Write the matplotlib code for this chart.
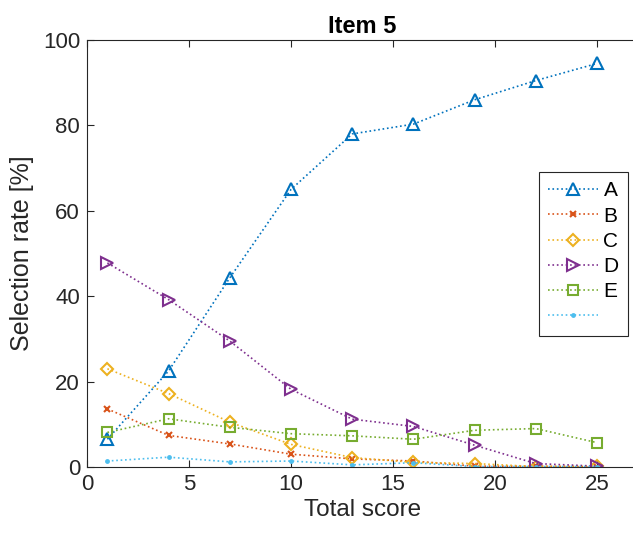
import matplotlib
matplotlib.use("Agg")
import matplotlib.pyplot as plt

plt.rcParams["font.family"] = ["Liberation Sans", "DejaVu Sans"]

# Total score bins
score = [1, 4, 7, 10, 13, 16, 19, 22, 25]

# Selection rate [%] per option
opt_a = [6.5, 22.5, 44.3, 65.0, 78.0, 80.3, 86.0, 90.5, 94.5]
opt_b = [13.6, 7.4, 5.4, 3.0, 1.9, 1.4, 0.2, 0.2, 0.0]
opt_c = [23.0, 17.2, 10.5, 5.3, 2.2, 1.1, 0.8, 0.1, 0.2]
opt_d = [47.8, 39.2, 29.5, 18.2, 11.2, 9.5, 5.1, 0.8, 0.2]
opt_e = [8.1, 11.3, 9.3, 7.8, 7.3, 6.5, 8.6, 9.0, 5.7]
opt_none = [1.4, 2.3, 1.2, 1.4, 0.5, 1.0, 0.1, 0.1, 0.1]

labels = ["A", "B", "C", "D", "E", " "]
series = [opt_a, opt_b, opt_c, opt_d, opt_e, opt_none]
colors = ["#0072BD", "#D95319", "#EDB120", "#7E2F8E", "#77AC30", "#4DBEEE"]
markers = ["^", "x", "D", ">", "s", "."]
sizes = [8, 5, 6, 8, 7, 4]

fig = plt.figure(figsize=(6.33, 5.33), dpi=100)
# axes runs just off the right side of the canvas, like the original
ax_w = 551
ax = fig.add_axes([87 / 633, 66 / 533, ax_w / 633, 427 / 533])

for y, lab, c, m, s in zip(series, labels, colors, markers, sizes):
    mfc = c if m == "." else "none"
    ax.plot(score, y, linestyle=":", color=c, marker=m, markersize=s,
            markerfacecolor=mfc, markeredgewidth=1.5, linewidth=1.2, label=lab)

ax.set_xlim(0, ax_w / 20.4)
ax.set_ylim(0, 100)
ax.set_xticks([0, 5, 10, 15, 20, 25])
ax.set_yticks([0, 20, 40, 60, 80, 100])
ax.tick_params(direction="in", labelsize=16, length=5, top=True, right=False,
               width=0.8, colors="#262626", pad=5)
for sp in ax.spines.values():
    sp.set_color("#262626")
    sp.set_linewidth(0.8)

ax.set_xlabel("Total score", fontsize=17.5, color="#262626", labelpad=3)
ax.set_ylabel("Selection rate [%]", fontsize=18, color="#262626", labelpad=6)
ax.set_title("Item 5", fontsize=17, fontweight="bold", pad=5)

leg = ax.legend(loc="upper right", bbox_to_anchor=((628 - 87) / ax_w, 0.691),
                fontsize=15, fancybox=False, framealpha=1, edgecolor="#262626",
                handlelength=2.4, handletextpad=0.25, labelspacing=0.3,
                borderpad=0.45, borderaxespad=0)
leg.get_frame().set_linewidth(0.8)

fig.savefig("out.png", dpi=100)
